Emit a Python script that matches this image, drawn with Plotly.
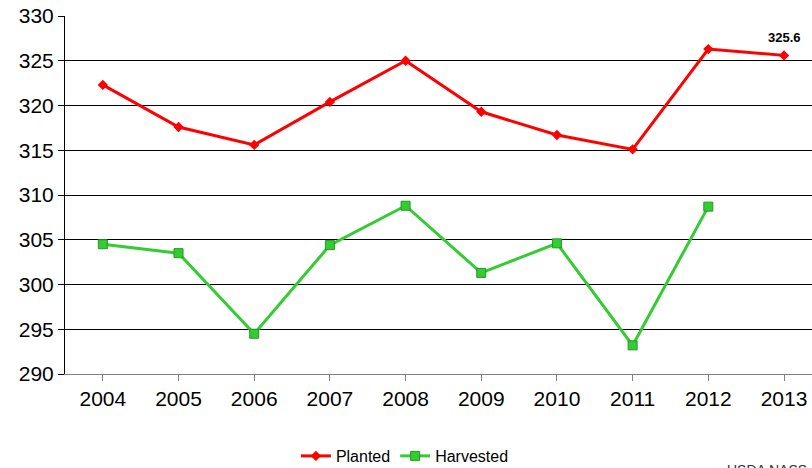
import plotly.graph_objects as go

years = ["2004", "2005", "2006", "2007", "2008", "2009", "2010", "2011", "2012", "2013"]
planted = [322.3, 317.6, 315.6, 320.4, 325.0, 319.3, 316.7, 315.1, 326.3, 325.6]
harvested = [304.5, 303.5, 294.5, 304.4, 308.8, 301.3, 304.6, 293.2, 308.7, None]
y_ticks = [290, 295, 300, 305, 310, 315, 320, 325, 330]
label_text = "325.6"

FONT = "Liberation Sans, Arial, sans-serif"

fig = go.Figure()
fig.add_trace(go.Scatter(
    x=years, y=planted, name="Planted", mode="lines+markers",
    line=dict(color="#FF0000", width=3),
    marker=dict(symbol="diamond", size=8, color="#FF0000"),
))
fig.add_trace(go.Scatter(
    x=years, y=harvested, name="Harvested", mode="lines+markers",
    line=dict(color="#33CC33", width=3),
    marker=dict(symbol="square", size=9, color="#33CC33", line=dict(color="#229922", width=1)),
))
last_idx = len(years) - 1
fig.add_annotation(
    xref="x", yref="y", x=last_idx, y=planted[last_idx], text="<b>" + label_text + "</b>",
    showarrow=False, yshift=18, xshift=0,
    font=dict(family=FONT, size=13, color="#000000"),
)
fig.add_annotation(
    xref="paper", yref="paper", x=0.883, y=-0.24, xanchor="left", yanchor="top",
    text="USDA NASS", showarrow=False,
    font=dict(family=FONT, size=14, color="#333333"),
)

fig.update_layout(
    width=812, height=468,
    margin=dict(l=65, r=0, t=16, b=94, autoexpand=False),
    paper_bgcolor="white", plot_bgcolor="white",
    font=dict(family=FONT, color="#000000"),
    showlegend=True,
    legend=dict(orientation="h", x=0.455, xanchor="center", y=-0.229, yanchor="middle",
                font=dict(size=16), tracegroupgap=0),
    xaxis=dict(
        type="category", range=[-0.5, 9.37], automargin=False,
        showgrid=False, showline=True, linecolor="#808080", linewidth=1,
        ticks="outside", ticklen=6, tickcolor="#808080",
        tickfont=dict(size=21), zeroline=False,
    ),
    yaxis=dict(
        range=[290, 330], tickvals=y_ticks, automargin=False,
        showgrid=True, gridcolor="#000000", gridwidth=1,
        showline=True, linecolor="#000000", linewidth=1,
        ticks="outside", ticklen=6, tickcolor="#000000",
        tickfont=dict(size=21), zeroline=False,
    ),
)

fig.write_html("out.html", config={"displayModeBar": False},
               post_script="document.body.style.margin='0';document.body.style.overflow='hidden';")
